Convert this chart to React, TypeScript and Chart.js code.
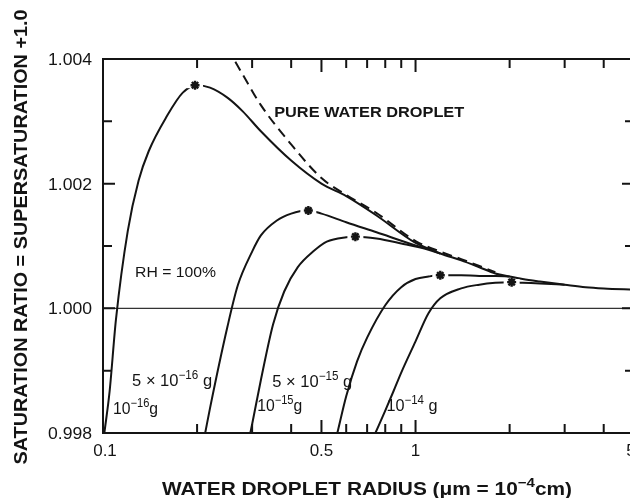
import React, { useEffect, useRef } from "react";
import { Chart, registerables } from "chart.js";

Chart.register(...registerables);

// ---- data (droplet radius in µm, saturation ratio) ----
const radiusPure = [0.25, 0.28, 0.32, 0.4, 0.5, 0.6, 0.75, 1.0, 1.2, 1.4, 1.6, 1.8];
const ratioPure = [1.00418, 1.00375, 1.00326, 1.00263, 1.00209, 1.00182, 1.00153, 1.00108, 1.00091, 1.00079, 1.00068, 1.00058];

const radiusA = [0.101, 0.105, 0.11, 0.12, 0.13, 0.14, 0.16, 0.18, 0.2, 0.22, 0.25, 0.28, 0.32, 0.4, 0.5, 0.6, 0.75, 1.0, 1.1, 1.2, 1.4, 1.6, 1.8, 2.0, 2.2, 2.5, 3.0, 3.5, 4.0, 5.0];
const ratioA = [0.998, 0.99867, 0.99982, 1.00124, 1.00205, 1.00252, 1.00308, 1.00346, 1.00358, 1.00354, 1.00338, 1.00316, 1.00284, 1.00237, 1.002, 1.0018, 1.00149, 1.00105, 1.00096, 1.00088, 1.00077, 1.00066, 1.00056, 1.00051, 1.00047, 1.00043, 1.00038, 1.00034, 1.00032, 1.0003];

const radiusB = [0.2123, 0.22, 0.25, 0.27, 0.3, 0.32, 0.36, 0.4, 0.45, 0.5, 0.6, 0.75, 1.0, 1.1];
const ratioB = [0.998, 0.9984, 0.9997, 1.00037, 1.00091, 1.00117, 1.00141, 1.00152, 1.00157, 1.00152, 1.00138, 1.00122, 1.00101, 1.00095];

const radiusC = [0.296, 0.3, 0.32, 0.35, 0.38, 0.42, 0.47, 0.52, 0.6, 0.65, 0.75, 0.9, 1.1, 1.2];
const ratioC = [0.998, 0.99814, 0.99885, 0.99974, 1.00027, 1.00066, 1.00091, 1.00107, 1.00114, 1.00115, 1.00112, 1.00104, 1.00094, 1.00088];

const radiusD = [0.562, 0.6, 0.65, 0.7, 0.8, 0.9, 1.0, 1.1, 1.2, 1.4, 1.6, 1.8, 2.0];
const ratioD = [0.998, 0.99859, 0.99915, 0.99953, 1.00005, 1.00034, 1.00047, 1.00051, 1.00053, 1.00053, 1.00052, 1.00052, 1.00051];

const radiusE = [0.744, 0.8, 0.85, 0.9, 1.0, 1.1, 1.2, 1.4, 1.6, 1.8, 2.0, 2.2, 2.5, 3.0];
const ratioE = [0.998, 0.99836, 0.99867, 0.99897, 0.99947, 0.99992, 1.00016, 1.00032, 1.00038, 1.00041, 1.00042, 1.00041, 1.0004, 1.00038];

const starRadius = [0.197, 0.454, 0.642, 1.2, 2.03];
const starRatio = [1.00358, 1.00157, 1.00115, 1.00053, 1.00042];

const yTickValues = [0.998, 0.999, 1.0, 1.001, 1.002, 1.003, 1.004];
const yTickLabels = ["0.998", "", "1.000", "", "1.002", "", "1.004"];
const xTickValues = [0.2, 0.3, 0.4, 0.5, 0.6, 0.7, 0.8, 0.9, 1, 2, 3, 4];
const xLongTicks = [0.5, 1];
const xLabelValues = [0.1, 0.5, 1, 5];
const xLabelTexts = ["0.1", "0.5", "1", "5"];

type Part = { t: string; sup?: boolean };
type Note = { parts: Part[]; r: number; s: number; width: number; size: number; bold: boolean };

const notes: Note[] = [
  { parts: [{ t: "PURE WATER DROPLET" }], r: 0.353, s: 1.00307, width: 190, size: 15, bold: true },
  { parts: [{ t: "RH = 100%" }], r: 0.1266, s: 1.00051, width: 81, size: 15, bold: false },
  { parts: [{ t: "5 × 10" }, { t: "−16", sup: true }, { t: " g" }], r: 0.1239, s: 0.99875, width: 80, size: 17, bold: false },
  { parts: [{ t: "10" }, { t: "−16", sup: true }, { t: "g" }], r: 0.1077, s: 0.9983, width: 45, size: 17, bold: false },
  { parts: [{ t: "5 × 10" }, { t: "−15", sup: true }, { t: " g" }], r: 0.348, s: 0.99873, width: 80, size: 17, bold: false },
  { parts: [{ t: "10" }, { t: "−15", sup: true }, { t: "g" }], r: 0.3116, s: 0.99835, width: 45, size: 17, bold: false },
  { parts: [{ t: "10" }, { t: "−14", sup: true }, { t: " g" }], r: 0.807, s: 0.99835, width: 51, size: 17, bold: false },
];

const xTitle: Part[] = [{ t: "WATER DROPLET RADIUS (μm = 10" }, { t: "−4", sup: true }, { t: "cm)" }];
const yTitle: Part[] = [{ t: "SATURATION RATIO = SUPERSATURATION +1.0" }];

const INK = "#141414";
const FONT = '"Liberation Sans", Arial, sans-serif';

function drawRich(ctx: CanvasRenderingContext2D, parts: Part[], size: number, bold: boolean, width: number, align: "left" | "center" | "right") {
  const fontFor = (sup?: boolean) => `${bold ? "bold " : ""}${sup ? Math.round(size * 0.7) : size}px ${FONT}`;
  let natural = 0;
  const widths = parts.map((p) => {
    ctx.font = fontFor(p.sup);
    const w = ctx.measureText(p.t).width;
    natural += w;
    return w;
  });
  const k = width > 0 ? width / natural : 1;
  ctx.save();
  ctx.scale(k, 1);
  let x = align === "left" ? 0 : align === "center" ? -natural / 2 : -natural;
  ctx.textAlign = "left";
  ctx.textBaseline = "alphabetic";
  parts.forEach((p, i) => {
    ctx.font = fontFor(p.sup);
    ctx.fillText(p.t, x, p.sup ? -size * 0.45 : 0);
    x += widths[i];
  });
  ctx.restore();
}

const decorPlugin = {
  id: "decor",
  beforeDatasetsDraw(chart: any) {
    const { ctx, chartArea, scales } = chart;
    const y = scales.y.getPixelForValue(1.0);
    ctx.save();
    ctx.strokeStyle = "#333";
    ctx.lineWidth = 1.3;
    ctx.beginPath();
    ctx.moveTo(chartArea.left, y);
    ctx.lineTo(chartArea.right, y);
    ctx.stroke();
    ctx.restore();
  },
  afterDatasetsDraw(chart: any) {
    const { ctx, chartArea, scales } = chart;
    const { left, right, top, bottom } = chartArea;
    const xs = scales.x;
    const ys = scales.y;
    ctx.save();
    ctx.strokeStyle = INK;
    ctx.fillStyle = INK;
    ctx.lineWidth = 2;
    ctx.strokeRect(left, top, right - left, bottom - top);

    // y ticks (inward, both sides)
    yTickValues.forEach((v, i) => {
      const py = ys.getPixelForValue(v);
      const len = yTickLabels[i] ? 12 : 9;
      ctx.beginPath();
      ctx.moveTo(left, py);
      ctx.lineTo(left + len, py);
      ctx.moveTo(right, py);
      ctx.lineTo(right - len, py);
      ctx.stroke();
    });
    // x ticks (inward, top and bottom)
    xTickValues.forEach((v) => {
      const px = xs.getPixelForValue(v);
      const len = xLongTicks.includes(v) ? 13 : 9;
      ctx.beginPath();
      ctx.moveTo(px, bottom);
      ctx.lineTo(px, bottom - len);
      ctx.moveTo(px, top);
      ctx.lineTo(px, top + len);
      ctx.stroke();
    });

    // y labels
    yTickValues.forEach((v, i) => {
      if (!yTickLabels[i]) return;
      const py = ys.getPixelForValue(v);
      ctx.save();
      ctx.translate(left - 11, py + 6);
      drawRich(ctx, [{ t: yTickLabels[i] }], 17, false, 44, "right");
      ctx.restore();
    });
    // x labels
    xLabelValues.forEach((v, i) => {
      const px = xs.getPixelForValue(v);
      const shift = i === 0 ? 2 : i === xLabelValues.length - 1 ? -3 : 0;
      ctx.save();
      ctx.translate(px + shift, bottom + 23);
      drawRich(ctx, [{ t: xLabelTexts[i] }], 17, false, 0, "center");
      ctx.restore();
    });

    // annotations
    notes.forEach((n) => {
      ctx.save();
      ctx.translate(xs.getPixelForValue(n.r), ys.getPixelForValue(n.s));
      drawRich(ctx, n.parts, n.size, n.bold, n.width, "left");
      ctx.restore();
    });

    // axis titles
    ctx.save();
    ctx.translate(367, bottom + 62);
    drawRich(ctx, xTitle, 18, true, 410, "center");
    ctx.restore();

    ctx.save();
    ctx.translate(27, (top + bottom) / 2 - 9);
    ctx.rotate(-Math.PI / 2);
    drawRich(ctx, yTitle, 18, true, 455, "center");
    ctx.restore();

    ctx.restore();
  },
};

function curve(r: number[], s: number[], dash: number[] = []) {
  return {
    data: r.map((x, i) => ({ x, y: s[i] })),
    borderColor: INK,
    borderWidth: 2,
    borderDash: dash,
    pointRadius: 0,
    cubicInterpolationMode: "monotone" as const,
    fill: false,
    order: 2,
  };
}

export default function App() {
  const ref = useRef<HTMLCanvasElement>(null);
  useEffect(() => {
    const canvas = ref.current;
    if (!canvas) return;
    const stars = starRadius.map((x, i) => ({ x, y: starRatio[i] }));
    const chart = new Chart(canvas, {
      type: "line",
      data: {
        datasets: [
          { data: stars, showLine: false, pointStyle: "star", pointRadius: 4.5, pointBorderWidth: 2.4, pointBorderColor: INK, pointBackgroundColor: INK, order: 0 } as any,
          { data: stars, showLine: false, pointStyle: "line", pointRadius: 8, pointBorderWidth: 6, pointBorderColor: "#ffffff", order: 1 } as any,
          curve(radiusPure, ratioPure, [10, 6]),
          curve(radiusA, ratioA),
          curve(radiusB, ratioB),
          curve(radiusC, ratioC),
          curve(radiusD, ratioD),
          curve(radiusE, ratioE),
        ],
      },
      options: {
        responsive: false,
        animation: false,
        devicePixelRatio: 1,
        events: [],
        layout: { padding: { left: 103, top: 59, right: 7, bottom: 65 } },
        plugins: { legend: { display: false }, tooltip: { enabled: false } },
        scales: {
          x: { type: "logarithmic", min: 0.1, max: 5, display: false },
          y: { type: "linear", min: 0.998, max: 1.004, display: false },
        },
      },
      plugins: [decorPlugin],
    } as any);
    return () => chart.destroy();
  }, []);
  return (
    <div style={{ position: "fixed", left: 0, top: 0, width: 630, height: 498, overflow: "hidden", background: "#fff" }}>
      <canvas ref={ref} width={648} height={498} style={{ display: "block", width: 648, height: 498 }} />
    </div>
  );
}
